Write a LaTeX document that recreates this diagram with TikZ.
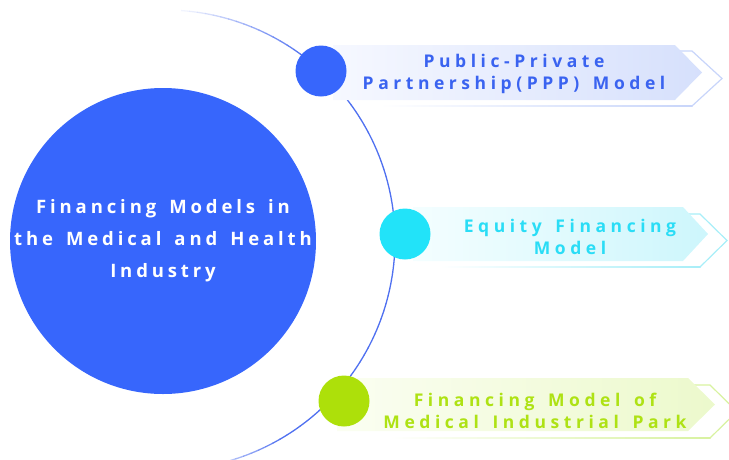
\documentclass[tikz,border=0pt]{standalone}
\usepackage{fontspec}
\setmainfont{Open Sans}
\newfontfamily\maintrack[LetterSpace=21,WordSpace=1.5]{Open Sans}
\newfontfamily\bantrack[LetterSpace=26,WordSpace=1.5]{Open Sans}
\definecolor{mainblue}{HTML}{3766FC}
\definecolor{cyanc}{HTML}{22E3F9}
\definecolor{greenc}{HTML}{ADE00A}
\definecolor{arcblue}{HTML}{4F70F0}
\definecolor{ppptext}{HTML}{3A63F0}
\definecolor{eqtext}{HTML}{2ADDF6}
\definecolor{grtext}{HTML}{AEE214}
\definecolor{pppfill}{HTML}{D6E0FC}
\definecolor{eqfill}{HTML}{CDF6FC}
\definecolor{grfill}{HTML}{ECF9CC}
\definecolor{pppstart}{HTML}{F6F8FF}
\definecolor{eqstart}{HTML}{F4FEFF}
\definecolor{grstart}{HTML}{FBFEF2}
\definecolor{pppline}{HTML}{C8D5FA}
\definecolor{eqline}{HTML}{A8EEF8}
\definecolor{grline}{HTML}{D8F2A0}
\tikzset{
  arcline/.style={draw=arcblue, line width=1.3pt},
  dot/.style={circle, inner sep=0pt, minimum size=51pt},
  bigdot/.style={circle, fill=mainblue, inner sep=0pt, minimum size=306pt},
  chev/.style={line width=1.2pt, line join=miter},
  maintext/.style={font=\maintrack\bfseries\fontsize{18.5}{32}\selectfont, text=white, align=center},
  bantext/.style={font=\bantrack\bfseries\fontsize{17.5}{22}\selectfont, align=center}
}
\begin{document}
\begin{tikzpicture}[x=1pt,y=-1pt]
\useasboundingbox (0,0) rectangle (729,459);
\clip (0,0) rectangle (729,459);
% outer arc with faded ends
\foreach \a in {-86,-84,...,80}{
  \pgfmathsetmacro{\o}{max(0.08,min(1,min((\a+88)/34,(82-\a)/24)))}
  \draw[arcline, opacity=\o] ([shift={(165,240)}]\a:230) arc[start angle=\a, end angle=\a+2.1, radius=230];
}
% banner outlines
\draw[chev, draw=pppline] (650,51) -- (692,51) -- (722,78.5) -- (692,106);
\shade[left color=white, right color=pppline] (380,105.4) rectangle (692.5,106.6);
\draw[chev, draw=eqline] (660,214) -- (700,214) -- (727,240.5) -- (700,267);
\shade[left color=white, right color=eqline] (440,266.4) rectangle (700.5,267.6);
\draw[chev, draw=grline] (670,385) -- (710,385) -- (737,411.5) -- (710,438);
\shade[left color=white, right color=grline] (390,437.4) rectangle (710.5,438.6);
% banner fills
\shade[left color=pppstart, right color=pppfill] (333,45) -- (675,45) -- (702,72.5) -- (675,100) -- (333,100) -- cycle;
\shade[left color=eqstart, right color=eqfill] (413,207) -- (683,207) -- (708,234) -- (683,261) -- (413,261) -- cycle;
\shade[left color=grstart, right color=grfill] (337,378) -- (688,378) -- (715,404.5) -- (688,431) -- (337,431) -- cycle;
% circles
\node[bigdot] (core) at (163,241) {};
\node[dot, fill=mainblue] (c1) at (321,71) {};
\node[dot, fill=cyanc] (c2) at (405,234) {};
\node[dot, fill=greenc] (c3) at (344,401) {};
% texts
\node[maintext] (coretext) at (163,241) {Financing Models in\\the Medical and Health\\Industry};
\node[bantext, text=ppptext] (t1) at (514,74) {Public-Private\\Partnership(PPP) Model};
\node[bantext, text=eqtext] (t2) at (570,237) {Equity Financing\\Model};
\node[bantext, text=grtext] (t3) at (535,411) {Financing Model of\\Medical Industrial Park};
\end{tikzpicture}
\end{document}
